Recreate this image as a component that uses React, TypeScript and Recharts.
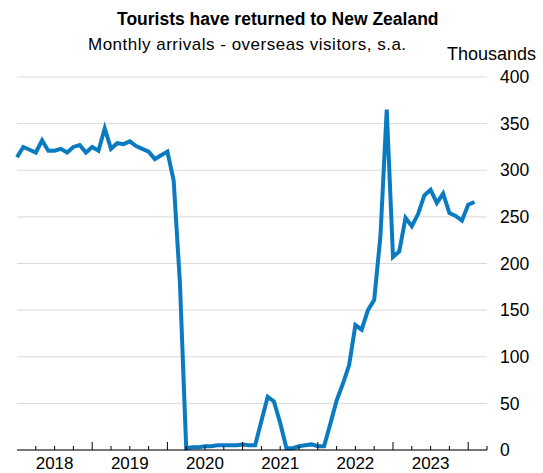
import { CartesianGrid, Line, LineChart, XAxis, YAxis } from "recharts";

const START_YEAR = 2018;
const YEAR_LABELS = ["2018", "2019", "2020", "2021", "2022", "2023"];
const Y_TICKS = [0, 50, 100, 150, 200, 250, 300, 350, 400];

// monthly arrivals, thousands, Jan 2018 .. Feb 2024
const ARRIVALS = [
  314, 325, 322, 319, 332, 321, 321, 323, 319, 325, 327, 319,
  325, 321, 345, 323, 329, 328, 331, 326, 323, 320, 312, 316,
  320, 289, 179, 2, 3, 3, 4, 4, 5, 5, 5, 5,
  6, 5, 5, 31, 57, 52, 29, 2, 2, 4, 5, 6,
  4, 4, 28, 53, 71, 91, 134, 129, 150, 161, 230, 365,
  207, 213, 249, 240, 253, 273, 279, 265, 275, 254, 251, 246,
  263, 266,
];

const data = ARRIVALS.map((v, i) => ({
  month: i,
  label: `${START_YEAR + Math.floor(i / 12)}-${String((i % 12) + 1).padStart(2, "0")}`,
  value: v,
}));

const X_MAX = 75;
const quarterTicks = Array.from({ length: X_MAX / 3 }, (_, k) => (k + 1) * 3);

const FONT = "'Liberation Sans', Arial, sans-serif";

function XTick(props: any) {
  const { x, y, payload } = props;
  const v = payload.value as number;
  const major = v % 12 === 0;
  const yearIdx = (v - 6) / 12;
  const label = v % 12 === 6 ? YEAR_LABELS[yearIdx] : null;
  return (
    <g>
      <line x1={x} x2={x} y1={y} y2={y - (major ? 8 : 4)} stroke="#000" strokeWidth={1} />
      {label && (
        <text x={x} y={y + 19} textAnchor="middle" fontSize={17} fill="#000" fontFamily={FONT}>
          {label}
        </text>
      )}
    </g>
  );
}

export default function App() {
  return (
    <div style={{ position: "relative", width: 543, height: 473, fontFamily: FONT, background: "#fff" }}>
      <style>{"body{margin:0}"}</style>
      <div style={{ position: "absolute", left: 117, top: 8, fontSize: 17.5, fontWeight: "bold", whiteSpace: "nowrap", lineHeight: "22px" }}>
        Tourists have returned to New Zealand
      </div>
      <div style={{ position: "absolute", left: 88, top: 35, fontSize: 17, letterSpacing: 0.5, whiteSpace: "nowrap", lineHeight: "20px" }}>
        Monthly arrivals - overseas visitors, s.a.
      </div>
      <div style={{ position: "absolute", left: 447, top: 43, fontSize: 18, whiteSpace: "nowrap", lineHeight: "22px" }}>
        Thousands
      </div>
      <div style={{ position: "absolute", left: 0, top: 0 }}>
        <LineChart width={543} height={473} data={data} margin={{ top: 77, right: 0, left: 17, bottom: 0 }}>
          <CartesianGrid vertical={false} stroke="#d9d9d9" strokeWidth={1} />
          <XAxis
            dataKey="month"
            type="number"
            domain={[0, X_MAX]}
            ticks={quarterTicks}
            interval={0}
            height={23}
            tickLine={false}
            tickSize={0}
            tickMargin={0}
            axisLine={{ stroke: "#000", strokeWidth: 1 }}
            tick={<XTick />}
          />
          <YAxis
            orientation="right"
            domain={[0, 400]}
            ticks={Y_TICKS}
            width={56}
            axisLine={false}
            tickLine={false}
            tickSize={0}
            tickMargin={13}
            tick={{ fill: "#000", fontSize: 17.5, fontFamily: FONT, textAnchor: "start" }}
          />
          <Line
            type="linear"
            dataKey="value"
            stroke="#0a7bc1"
            strokeWidth={4}
            dot={false}
            isAnimationActive={false}
          />
        </LineChart>
      </div>
    </div>
  );
}
